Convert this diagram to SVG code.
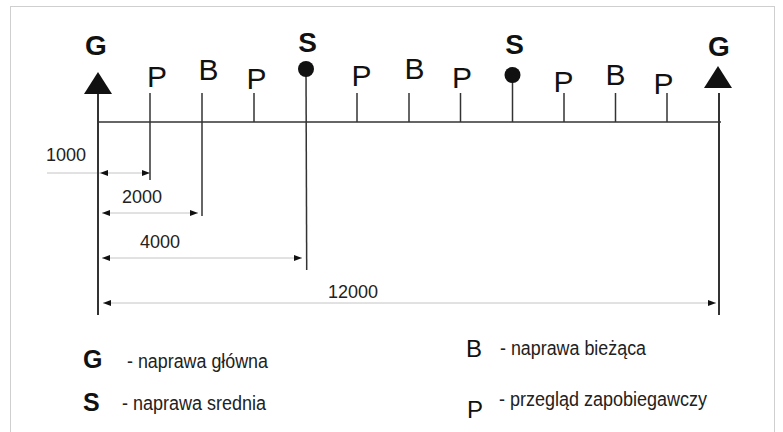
<svg xmlns="http://www.w3.org/2000/svg" width="783" height="432" viewBox="0 0 783 432">
<style>
.lbl{font-family:"Liberation Sans",Arial,sans-serif;font-size:30px;fill:#111;text-anchor:middle}
.bold{font-family:"Liberation Sans",Arial,sans-serif;font-weight:bold;font-size:28px;fill:#111;text-anchor:middle}
.tick{stroke:#333;stroke-width:1.5;fill:none}
.gline{stroke:#333;stroke-width:2;fill:none}
.dim{stroke:#c4c4c4;stroke-width:1;fill:none}
.dimtxt{font-family:"Liberation Sans",Arial,sans-serif;font-size:18px;fill:#222}
.leg{font-family:"Liberation Sans",Arial,sans-serif;font-size:19.5px;fill:#222}
.legb{font-family:"Liberation Sans",Arial,sans-serif;font-weight:bold;font-size:25px;fill:#111}
.legr{font-family:"Liberation Sans",Arial,sans-serif;font-size:24px;fill:#111}
</style>
<defs>
<marker id="ah" markerUnits="userSpaceOnUse" markerWidth="9" markerHeight="7" refX="8" refY="3" orient="auto-start-reverse">
<path d="M0,0 L8,3 L0,6 z" fill="#111"/>
</marker>
</defs>
<rect x="0" y="0" width="783" height="432" fill="#fff"/>
<rect x="10.5" y="6.5" width="764" height="440" fill="#fff" stroke="#cfcfcf" stroke-width="1"/>

<g id="connectors">
<line class="tick" x1="98" y1="122" x2="721" y2="122"/>
<line class="dim" x1="47" y1="173" x2="100" y2="173"/>
<path class="dim" d="M100,173 H150" marker-start="url(#ah)" marker-end="url(#ah)"/>
<path class="dim" d="M102,213 H198" marker-start="url(#ah)" marker-end="url(#ah)"/>
<path class="dim" d="M102,258 H302" marker-start="url(#ah)" marker-end="url(#ah)"/>
<path class="dim" d="M103,303 H716" marker-start="url(#ah)" marker-end="url(#ah)"/>
<text class="dimtxt" x="46" y="161">1000</text>
<text class="dimtxt" x="122" y="203">2000</text>
<text class="dimtxt" x="140" y="248">4000</text>
<text class="dimtxt" x="328" y="298">12000</text>
</g>

<g id="node-G1">
<line class="gline" x1="98" y1="93" x2="98" y2="315"/>
<polygon points="98,72 112,94 84,94" fill="#111"/>
<text class="bold" x="96" y="55">G</text>
</g>
<g id="node-P1">
<line class="tick" x1="150" y1="93" x2="150" y2="180"/>
<text class="lbl" x="157" y="87">P</text>
</g>
<g id="node-B1">
<line class="tick" x1="202" y1="93" x2="202" y2="216"/>
<text class="lbl" x="208.5" y="80">B</text>
</g>
<g id="node-P2">
<line class="tick" x1="254" y1="93" x2="254" y2="122"/>
<text class="lbl" x="256.5" y="89">P</text>
</g>
<g id="node-S1">
<line class="tick" x1="306" y1="69" x2="306.7" y2="270"/>
<circle cx="306" cy="69" r="8" fill="#111"/>
<text class="bold" x="307.5" y="52">S</text>
</g>
<g id="node-P3">
<line class="tick" x1="357" y1="93" x2="357" y2="122"/>
<text class="lbl" x="361.5" y="86">P</text>
</g>
<g id="node-B2">
<line class="tick" x1="409" y1="93" x2="409" y2="122"/>
<text class="lbl" x="414.5" y="79">B</text>
</g>
<g id="node-P4">
<line class="tick" x1="460.5" y1="93" x2="460.5" y2="122"/>
<text class="lbl" x="462" y="88">P</text>
</g>
<g id="node-S2">
<line class="tick" x1="512.5" y1="75" x2="512.5" y2="122"/>
<circle cx="512.5" cy="75" r="8" fill="#111"/>
<text class="bold" x="514.5" y="54">S</text>
</g>
<g id="node-P5">
<line class="tick" x1="564" y1="93" x2="564" y2="122"/>
<text class="lbl" x="563.5" y="92">P</text>
</g>
<g id="node-B3">
<line class="tick" x1="615.5" y1="93" x2="615.5" y2="122"/>
<text class="lbl" x="615.5" y="85">B</text>
</g>
<g id="node-P6">
<line class="tick" x1="667" y1="93" x2="667" y2="122"/>
<text class="lbl" x="663.5" y="94">P</text>
</g>
<g id="node-G2">
<line class="gline" x1="719" y1="93" x2="719" y2="315"/>
<polygon points="718,66 732,88 704,88" fill="#111"/>
<text class="bold" x="719" y="56">G</text>
</g>

<g id="legend">
<text class="legb" x="83" y="368">G</text>
<text class="leg" x="127" y="368" textLength="141" lengthAdjust="spacingAndGlyphs">- naprawa główna</text>
<text class="legb" x="83" y="411">S</text>
<text class="leg" x="122" y="410" textLength="144" lengthAdjust="spacingAndGlyphs">- naprawa srednia</text>
<text class="legr" x="466" y="357">B</text>
<text class="leg" x="500" y="355" textLength="146" lengthAdjust="spacingAndGlyphs">- naprawa bieżąca</text>
<text class="legr" x="467" y="418">P</text>
<text class="leg" x="499" y="406" textLength="208" lengthAdjust="spacingAndGlyphs">- przegląd zapobiegawczy</text>
</g>
</svg>
